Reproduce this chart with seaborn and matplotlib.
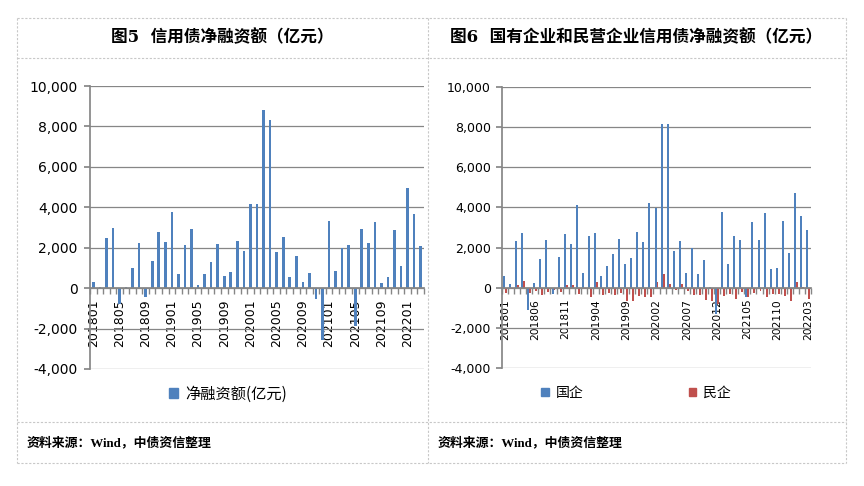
import numpy as np
import pandas as pd
import matplotlib
matplotlib.use("Agg")
import matplotlib.pyplot as plt
import seaborn as sns
from matplotlib.lines import Line2D
from matplotlib.patches import Patch
from matplotlib.ticker import FuncFormatter, FixedLocator

# ---------------- data ----------------
months = [f"{y}{m:02d}" for y in range(2018, 2023) for m in range(1, 13)][:51]

net_financing = [280, 50, 2490, 2980, -790, 40, 1020, 2210, -460, 1330, 2800, 2260,
                 3790, 690, 2110, 2930, 180, 720, 1300, 2160, 590, 800, 2310, 1820,
                 4180, 4180, 8800, 8310, 1770, 2510, 540, 1570, 300, 740, -540, -2590,
                 3340, 850, 2000, 2110, -1850, 2950, 2210, 3250, 260, 540, 2900, 1080,
                 4970, 3660, 2070]

soe = [570, 170, 2320, 2720, -1120, 220, 1420, 2370, -300, 1520, 2670, 2170,
       4120, 720, 2570, 2720, 570, 1070, 1670, 2420, 1170, 1470, 2770, 2270,
       4220, 3980, 8170, 8170, 1820, 2320, 720, 1970, 670, 1370, 50, -1300,
       3770, 1170, 2570, 2370, -450, 3280, 2370, 3720, 920, 970, 3320, 1720,
       4720, 3570, 2870]

private = [-250, -80, 120, 320, -250, -170, -370, -200, -100, -200, 120, 120,
           -330, -80, -480, 270, -370, -250, -370, -250, -650, -670, -420, -450,
           -450, 270, 670, 170, -100, 170, -170, -370, -370, -620, -670, -800,
           -420, -330, -550, -200, -450, -280, -180, -480, -330, -330, -420, -670,
           270, 50, -550]

series_names = ["国企", "民企"]
left_title = "图5  信用债净融资额（亿元）"
right_title = "图6  国有企业和民营企业信用债净融资额（亿元）"
left_legend = "净融资额(亿元)"
source_text = "资料来源：Wind，中债资信整理"
yticks = [-4000, -2000, 0, 2000, 4000, 6000, 8000, 10000]

BLUE = "#4F81BD"
RED = "#C0504D"
GRID = "#868686"

# ---------------- style ----------------
sns.set_theme(style="white")
plt.rcParams["font.family"] = ["DejaVu Sans", "Noto Sans CJK SC"]
plt.rcParams["axes.unicode_minus"] = False
plt.rcParams["text.color"] = "black"
plt.rcParams["xtick.color"] = "black"
plt.rcParams["ytick.color"] = "black"
plt.rcParams["xtick.labelcolor"] = "black"
plt.rcParams["ytick.labelcolor"] = "black"

W, H = 864, 486
fig = plt.figure(figsize=(W / 100, H / 100), dpi=100)


def ax_rect(x0, y0, x1, y1):
    return [x0 / W, 1 - y1 / H, (x1 - x0) / W, (y1 - y0) / H]


def fx(x):
    return x / W


def fy(y):
    return 1 - y / H


# ---------------- table borders ----------------
bcol = "#c8c8c8"
for (x0, y0, x1, y1) in [(17, 18, 846, 18), (17, 58, 846, 58), (17, 422, 846, 422),
                         (17, 463, 846, 463), (17, 18, 17, 463), (846, 18, 846, 463),
                         (428, 18, 428, 463)]:
    fig.add_artist(Line2D([fx(x0), fx(x1)], [fy(y0), fy(y1)], color=bcol,
                          lw=0.8, ls=(0, (2, 1.5)), transform=fig.transFigure))

# ---------------- titles / sources ----------------
fig.text(fx(222), fy(38), left_title, ha="center", va="center", fontsize=12,
         fontweight="bold", color="black",
         family=["DejaVu Serif", "Noto Sans CJK SC"])
fig.text(fx(636), fy(38), right_title, ha="center", va="center", fontsize=12,
         fontweight="bold", color="black",
         family=["DejaVu Serif", "Noto Sans CJK SC"])
for x in (27, 438):
    fig.text(fx(x), fy(443), source_text, ha="left", va="center", fontsize=9.3,
             fontweight="bold", color="black",
             family=["Liberation Serif", "Noto Sans CJK SC"])

fmt = FuncFormatter(lambda v, p: f"{int(v):,}")


def style_axes(ax, step, xfs, yfs, ypad):
    ax.set_ylim(-4000, 10000)
    ax.set_yticks(yticks)
    ax.yaxis.set_major_formatter(fmt)
    ax.grid(axis="y", color=GRID, lw=0.9)
    ax.grid(axis="x", visible=False)
    ax.set_axisbelow(True)
    for s in ["top", "right"]:
        ax.spines[s].set_visible(False)
    ax.spines["left"].set_color(GRID)
    ax.spines["bottom"].set_color(GRID)
    ax.spines["bottom"].set_position(("data", 0))
    ax.spines["left"].set_bounds(-4000, 10000)
    n = len(months)
    ax.set_xlim(-0.5, n - 0.5)
    ax.set_xticks(list(range(0, n, step)))
    ax.set_xticklabels([months[i] for i in range(0, n, step)], rotation=90,
                       fontsize=xfs, va="top")
    ax.xaxis.set_minor_locator(FixedLocator([i - 0.5 for i in range(n + 1)]))
    ax.tick_params(axis="x", which="major", length=0, pad=8, labelcolor="black")
    ax.tick_params(axis="x", which="minor", length=4, color=GRID, direction="out",
                   bottom=True)
    ax.tick_params(axis="y", length=4, color=GRID, left=True, direction="out",
                   labelsize=yfs, pad=ypad, labelcolor="black")
    ax.set_xlabel("")
    ax.set_ylabel("")
    ax.set_facecolor("none")


# ---------------- left chart ----------------
ax1 = fig.add_axes(ax_rect(90, 86, 424, 369))
df1 = pd.DataFrame({"month": months, "value": net_financing})
sns.barplot(data=df1, x="month", y="value", color=BLUE, saturation=1, width=0.4,
            ax=ax1, errorbar=None, linewidth=0, edgecolor="none")
style_axes(ax1, 4, 9, 10, 5)
ax1.legend(handles=[Patch(color=BLUE, label=left_legend)], loc="center",
           bbox_to_anchor=(fx(228), fy(394)), bbox_transform=fig.transFigure,
           frameon=False, handlelength=0.55, handleheight=0.55,
           handletextpad=0.5, labelcolor="black",
           prop={"family": ["Noto Sans CJK SC"], "size": 11})

# ---------------- right chart ----------------
ax2 = fig.add_axes(ax_rect(502, 87, 811, 368))
df2 = pd.DataFrame({
    "month": months * 2,
    "value": soe + private,
    "type": [series_names[0]] * len(months) + [series_names[1]] * len(months),
})
sns.barplot(data=df2, x="month", y="value", hue="type", hue_order=series_names,
            palette=[BLUE, RED], saturation=1, width=0.66, ax=ax2, errorbar=None,
            legend=False, linewidth=0, edgecolor="none")
style_axes(ax2, 5, 7.7, 9, 4)
ax2.legend(handles=[Patch(color=BLUE, label=series_names[0]),
                    Patch(color=RED, label=series_names[1])],
           loc="center", ncol=2, bbox_to_anchor=(fx(636), fy(393)),
           bbox_transform=fig.transFigure, frameon=False,
           handlelength=0.55, handleheight=0.55, handletextpad=0.5,
           columnspacing=7.6, labelcolor="black",
           prop={"family": ["Noto Sans CJK SC"], "size": 10})

fig.savefig("out.png", dpi=100, facecolor="white")
